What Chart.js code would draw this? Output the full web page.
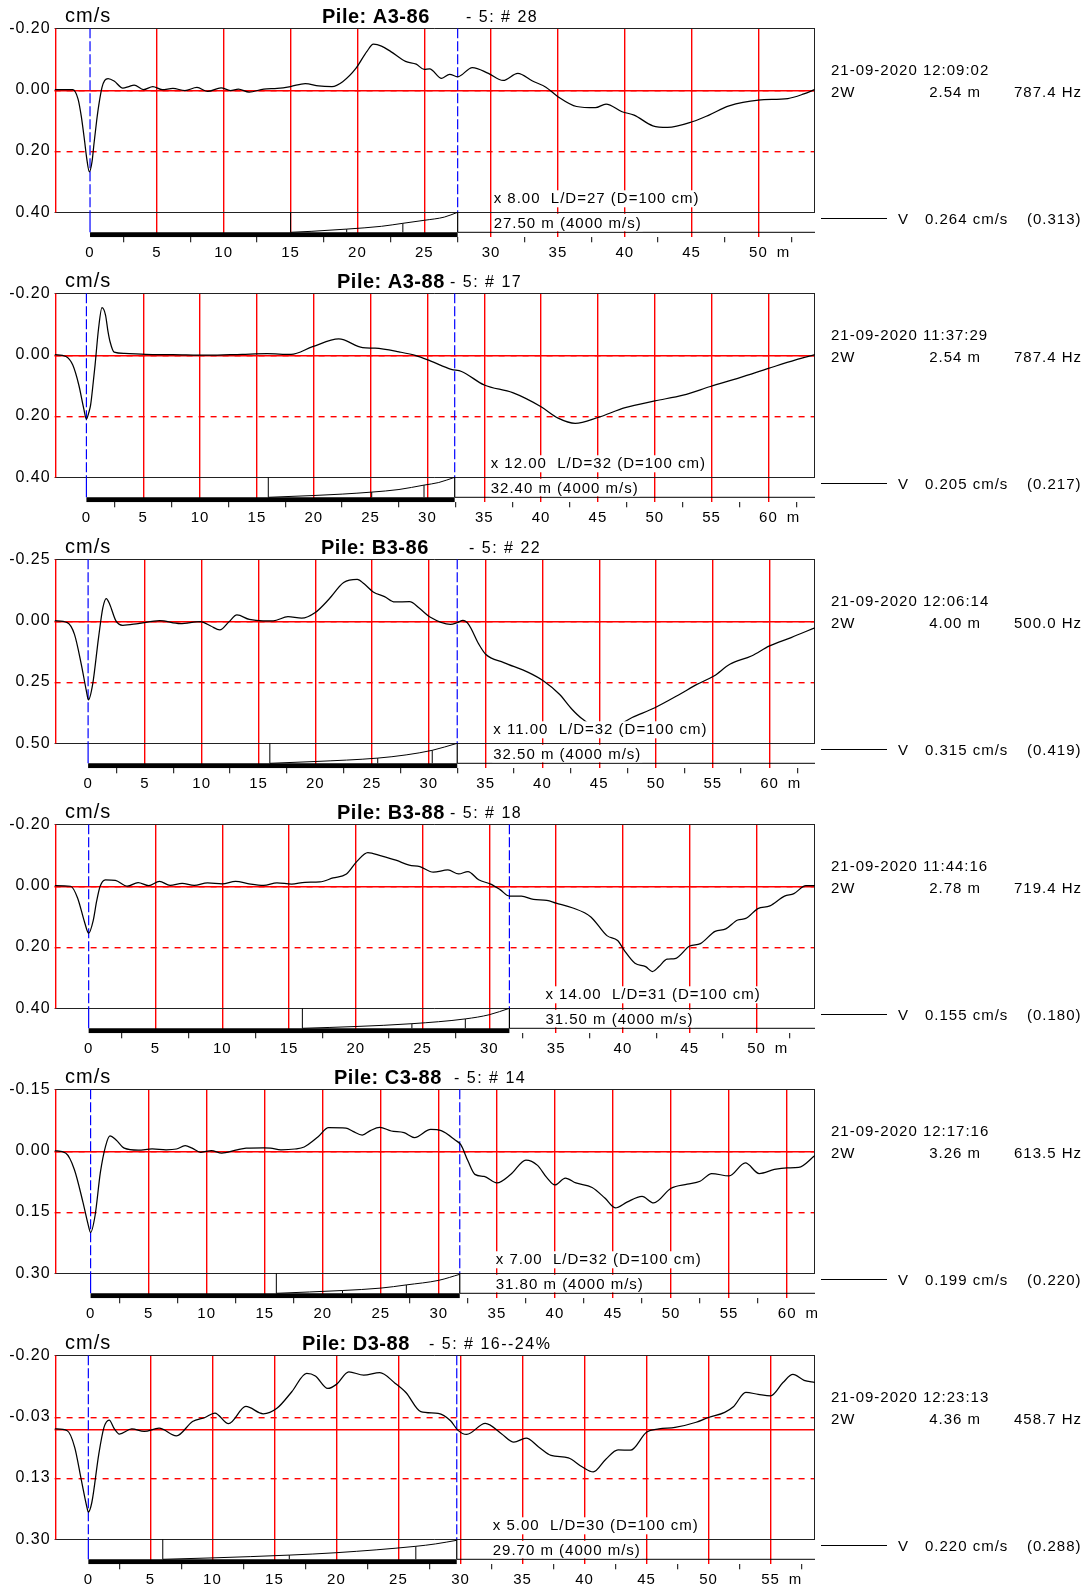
<!DOCTYPE html>
<html>
<head>
<meta charset="utf-8">
<title>Pile integrity records</title>
<script src="https://cdn.jsdelivr.net/npm/chart.js@4.4.1/dist/chart.umd.min.js"></script>
<style>
  html, body { margin: 0; padding: 0; background: #fff; overflow: hidden; }
  body { width: 1088px; height: 1586px; position: relative; }
  canvas { position: absolute; left: 0; }
</style>
</head>
<body>
<script>
// one entry per pile record, top to bottom
const piles = ['A3-86', 'A3-88', 'B3-86', 'B3-88', 'C3-88', 'D3-88'];
const blowInfo = ['- 5: # 28', '- 5: # 17', '- 5: # 22', '- 5: # 18', '- 5: # 14', '- 5: # 16--24%'];
const testTimes = ['21-09-2020 12:09:02', '21-09-2020 11:37:29', '21-09-2020 12:06:14',
                   '21-09-2020 11:44:16', '21-09-2020 12:17:16', '21-09-2020 12:23:13'];
const windowLens = ['2.54 m', '2.54 m', '4.00 m', '2.78 m', '3.26 m', '4.36 m'];
const filterFreqs = ['787.4 Hz', '787.4 Hz', '500.0 Hz', '719.4 Hz', '613.5 Hz', '458.7 Hz'];
const peakVel = ['0.264 cm/s', '0.205 cm/s', '0.315 cm/s', '0.155 cm/s', '0.199 cm/s', '0.220 cm/s'];
const peakRaw = ['(0.313)', '(0.217)', '(0.419)', '(0.180)', '(0.220)', '(0.288)'];
const gains = [8, 12, 11, 14, 7, 5];
const ldRatio = [27, 32, 32, 31, 32, 30];
const pileDiam = 100; // cm
const pileLen = [27.5, 32.4, 32.5, 31.5, 31.8, 29.7];
const waveSpeed = 4000;

// axes
const yTop = [-0.20, -0.20, -0.25, -0.20, -0.15, -0.20];
const yBottom = [0.40, 0.40, 0.50, 0.40, 0.30, 0.30];
const yTickLabels = [
  ['-0.20', '0.00', '0.20', '0.40'],
  ['-0.20', '0.00', '0.20', '0.40'],
  ['-0.25', '0.00', '0.25', '0.50'],
  ['-0.20', '0.00', '0.20', '0.40'],
  ['-0.15', '0.00', '0.15', '0.30'],
  ['-0.20', '-0.03', '0.13', '0.30']
];
const xFrom = [-2.65, -2.8, -2.95, -2.55, -3.1, -2.72];
const xTo = [54.23, 64.1, 64.0, 54.38, 62.4, 58.58];

// velocity traces [depth m, cm/s]
const traceA386 = [[-2.65,0],[-1.3,0],[-0.9,0.03],[-0.65,0.088],[-0.4,0.17],[-0.26,0.22],[-0.05,0.268],[0.15,0.235],[0.3,0.175],[0.5,0.1],[0.65,0.052],[0.9,-0.008],[1.1,-0.03],[1.35,-0.036],[1.8,-0.028],[2.45,-0.005],[2.9,-0.01],[3.3,-0.015],[4.0,0],[4.7,-0.01],[5.4,0],[6.2,-0.004],[7.1,0.003],[8.0,-0.007],[8.8,0.006],[9.8,-0.006],[10.5,0.003],[11.1,-0.002],[11.9,0.008],[13,-0.002],[14,-0.004],[15,-0.01],[16.1,-0.02],[17.1,-0.012],[18.1,-0.01],[18.9,-0.026],[19.9,-0.07],[20.7,-0.124],[21.2,-0.148],[21.8,-0.142],[22.5,-0.124],[23.6,-0.092],[24.4,-0.083],[25,-0.066],[25.4,-0.068],[26.3,-0.037],[26.9,-0.05],[27.5,-0.042],[28.6,-0.072],[29.8,-0.053],[30.9,-0.03],[32.0,-0.053],[33.1,-0.028],[34.1,-0.008],[35,0.023],[36.4,0.055],[37.8,0.059],[38.6,0.047],[39.8,0.072],[40.7,0.083],[42.1,0.118],[43.2,0.123],[45.1,0.104],[46.3,0.083],[47.8,0.053],[50,0.034],[52.2,0.029],[53.4,0.014],[54.2,0]];
const traceA388 = [[-2.8,0],[-1.8,0.006],[-1.2,0.034],[-0.67,0.099],[-0.24,0.175],[0,0.21],[0.2,0.19],[0.37,0.164],[0.6,0.09],[0.76,0.034],[1.07,-0.086],[1.37,-0.153],[1.68,-0.129],[1.9,-0.075],[2.08,-0.042],[2.44,-0.008],[3.36,-0.004],[5.2,-0.001],[7.6,0],[10.7,0.002],[13.7,-0.001],[15.9,-0.003],[18,-0.001],[19.9,-0.026],[22.2,-0.051],[24.3,-0.023],[25.4,-0.021],[27.5,-0.009],[29,0.003],[30.3,0.021],[32.1,0.048],[33,0.055],[35,0.099],[37.5,0.124],[40,0.17],[41.5,0.207],[43,0.224],[45,0.205],[47.4,0.173],[50,0.151],[52.5,0.132],[54.9,0.104],[57.5,0.075],[60,0.045],[62.4,0.017],[64.1,0]];
const traceB386 = [[-2.95,0],[-1.83,0.008],[-1.2,0.056],[-0.6,0.178],[-0.15,0.287],[0.03,0.323],[0.4,0.26],[0.92,0.069],[1.3,-0.053],[1.6,-0.09],[1.9,-0.067],[2.44,0],[3.05,0.019],[4.4,0.012],[6.3,0],[8.1,0.012],[9.9,0.004],[10.8,0.022],[11.6,0.038],[12.4,0.005],[13.1,-0.023],[14.2,-0.005],[15.4,0.001],[16.3,0.001],[17.6,-0.016],[18.8,-0.01],[20,-0.033],[21.2,-0.087],[22.5,-0.155],[23.7,-0.168],[24.3,-0.15],[25.1,-0.117],[26.1,-0.098],[27,-0.076],[28.3,-0.077],[29.2,-0.049],[30.1,-0.015],[31.9,0.015],[32.5,0.008],[33,-0.001],[33.5,0.015],[34.4,0.096],[35,0.137],[36.6,0.171],[38.8,0.212],[40.1,0.246],[41.5,0.3],[42.6,0.361],[43.5,0.40],[45.5,0.45],[47.9,0.395],[49.9,0.355],[52.1,0.30],[53.6,0.26],[55.1,0.226],[56.5,0.178],[58.4,0.144],[60,0.103],[61.9,0.069],[64,0.029]];
const traceB388 = [[-2.55,0],[-1.35,0.002],[-0.83,0.04],[-0.3,0.12],[0,0.155],[0.34,0.114],[0.6,0.05],[0.86,0.002],[1.25,-0.019],[2.0,-0.017],[2.9,0.002],[3.7,-0.01],[4.5,0],[5.3,-0.014],[6.1,-0.001],[7,-0.007],[7.9,-0.001],[8.9,-0.009],[10,-0.006],[11,-0.014],[12,-0.006],[13.1,-0.001],[14.1,-0.009],[15.2,-0.005],[16.2,-0.011],[17.3,-0.012],[18.3,-0.025],[19.3,-0.038],[20.1,-0.08],[20.9,-0.108],[21.9,-0.097],[23,-0.083],[24,-0.067],[24.8,-0.062],[25.8,-0.044],[26.9,-0.051],[27.7,-0.038],[28.4,-0.046],[29.2,-0.019],[30.1,-0.005],[30.8,0.013],[31.5,0.034],[32.4,0.034],[33.3,0.045],[34.3,0.048],[35,0.057],[36.2,0.072],[37.6,0.102],[38.8,0.163],[39.6,0.179],[40.1,0.211],[40.9,0.253],[41.7,0.264],[42.2,0.28],[42.7,0.264],[43.3,0.24],[43.9,0.238],[45,0.197],[45.8,0.189],[46.9,0.149],[47.7,0.141],[48.6,0.112],[49.2,0.107],[50.1,0.075],[51,0.066],[52.1,0.034],[52.8,0.026],[53.7,0],[54.38,0]];
const traceC388 = [[-3.1,0],[-2.15,0.006],[-1.4,0.046],[-0.66,0.126],[-0.2,0.182],[0,0.2],[0.39,0.158],[0.84,0.054],[1.28,-0.01],[1.67,-0.036],[2.2,-0.026],[2.9,-0.006],[4.1,-0.001],[5.3,-0.004],[6.5,-0.002],[7.4,-0.004],[8.15,-0.012],[8.75,-0.006],[9.5,0.004],[10.4,0],[11.3,0.006],[12.5,-0.001],[13.4,-0.006],[14.9,-0.007],[15.5,-0.006],[16.4,-0.002],[17.6,-0.004],[18.4,-0.009],[19.6,-0.034],[20.5,-0.056],[22,-0.055],[22.6,-0.047],[23.4,-0.038],[24.1,-0.049],[24.9,-0.057],[25.9,-0.048],[27,-0.044],[27.9,-0.032],[29.3,-0.052],[30.2,-0.049],[31.4,-0.026],[31.9,-0.014],[32.5,0.025],[33.1,0.058],[33.9,0.063],[35,0.079],[36.2,0.058],[37.5,0.023],[38.5,0.036],[39.3,0.066],[40,0.084],[40.9,0.067],[41.8,0.079],[43.2,0.09],[44.3,0.116],[45.2,0.14],[46.2,0.126],[47.5,0.112],[48.5,0.128],[50,0.092],[51.4,0.082],[52.5,0.075],[53.5,0.056],[55,0.062],[56.4,0.03],[57.6,0.056],[58.9,0.046],[60,0.042],[61,0.041],[62.4,0.012]];
const traceD388 = [[-2.72,0],[-1.7,0.005],[-1.1,0.05],[-0.56,0.14],[-0.14,0.209],[0,0.226],[0.28,0.2],[0.84,0.069],[1.26,-0.004],[1.68,-0.024],[2.1,0],[2.5,0.014],[3.5,0],[4.5,0.007],[5.7,-0.002],[7.1,0.019],[8.4,-0.02],[9.4,-0.031],[10.2,-0.043],[11.3,-0.014],[12.7,-0.061],[14.1,-0.041],[15.2,-0.056],[16.4,-0.101],[17.6,-0.151],[18.3,-0.144],[19.3,-0.11],[20,-0.121],[21,-0.155],[22.2,-0.146],[23.5,-0.153],[24.7,-0.125],[25.6,-0.099],[26.8,-0.047],[28.2,-0.042],[29.2,-0.022],[29.8,0.004],[30.5,0.015],[32,-0.015],[33.3,0.013],[34.3,0.036],[35.3,0.025],[36.3,0.049],[37.3,0.072],[38.7,0.079],[39.8,0.103],[40.7,0.117],[41.7,0.083],[42.7,0.057],[43.7,0.058],[45,0.009],[46,0],[47.3,-0.004],[49,-0.018],[50,-0.031],[51.3,-0.045],[52,-0.06],[53,-0.099],[54,-0.094],[55,-0.09],[56,-0.126],[56.8,-0.148],[57.7,-0.132],[58.58,-0.126]];
const traces = [traceA386, traceA388, traceB386, traceB388, traceC388, traceD388];

// amplification curve under each frame [depth m, share of band height]
const ampStart = [15, 16, 16, 16, 16, 6];
const ampCurves = [
  [[15,0],[16.6,0.05],[19.2,0.16],[21.8,0.3],[23.4,0.45],[25,0.6],[26.5,0.76],[27.5,1]],
  [[16,0],[20,0.09],[22.5,0.16],[25.1,0.26],[27.5,0.39],[29.7,0.61],[31,0.74],[32.4,1]],
  [[16,0],[20,0.09],[25.5,0.26],[28,0.42],[30.3,0.65],[32.5,1]],
  [[16,0],[20,0.09],[24.2,0.23],[28.2,0.47],[30,0.68],[31.5,1]],
  [[16,0],[21.7,0.14],[25,0.26],[27.2,0.42],[30,0.65],[31.8,0.95]],
  [[6,0],[10,0.07],[16.2,0.21],[20,0.33],[26.4,0.65],[28,0.77],[29.7,0.95]]
];
const ampMarks = [
  [[19.2,0.16],[23.4,0.45]],
  [[25.1,0.26],[29.7,0.61]],
  [[25.5,0.26],[30.3,0.65]],
  [[24.2,0.23],[28.2,0.47]],
  [[21.7,0.14],[27.2,0.42]],
  [[16.2,0.21],[26.4,0.65]]
];

// page layout
const PANEL_H = 265;
const panelTops = [0, 265, 531, 796, 1061, 1327];
const titleX = [322, 337, 321, 337, 334, 302];
const suffixX = [466, 450, 469, 450, 454, 429];
const FONT = "'Liberation Sans', Arial, sans-serif";
const RED = '#ff0000';
const BLUE = '#0000ff';
const FRAME_TOP = 28.3, FRAME_PX = 184;
const BAR_TOP = 20, BAR_BOT = 25; // px below frame bottom

function bandVal(p, px) {
  return yBottom[p] + px * (yBottom[p] - yTop[p]) / FRAME_PX;
}

function seg(x1, y1, x2, y2, color, width, dash) {
  return {
    data: [{x: x1, y: y1}, {x: x2, y: y2}],
    borderColor: color, borderWidth: width, borderDash: dash || [],
    pointRadius: 0, tension: 0, borderCapStyle: 'butt'
  };
}

function isMajor(v) { return Math.abs(v / 5 - Math.round(v / 5)) < 1e-6; }

function hline(ctx, x1, x2, y) {
  ctx.beginPath(); ctx.moveTo(x1, y); ctx.lineTo(x2, y); ctx.stroke();
}
function vline(ctx, x, y1, y2) {
  ctx.beginPath(); ctx.moveTo(x, y1); ctx.lineTo(x, y2); ctx.stroke();
}

function decor(p) {
  return {
    id: 'decor' + p,
    beforeDraw(chart) {
      chart.ctx.letterSpacing = '1px';
    },
    beforeDatasetsDraw(chart) {
      const ctx = chart.ctx, a = chart.chartArea, y = chart.scales.y;
      const rng = yBottom[p] - yTop[p];
      const top = Math.round(y.getPixelForValue(yTop[p])) + 0.5;
      const bot = Math.round(y.getPixelForValue(yBottom[p])) + 0.5;
      ctx.save();
      ctx.lineWidth = 1.4;
      ctx.strokeStyle = RED;
      ctx.setLineDash([6, 6]);
      [1, 2].forEach(k => {
        const py = Math.round(y.getPixelForValue(yTop[p] + k * rng / 3)) + 0.7;
        hline(ctx, a.left, a.right, py);
      });
      ctx.setLineDash([]);
      hline(ctx, a.left, a.right, Math.round(y.getPixelForValue(0)) + 0.7);
      // frame
      ctx.lineWidth = 1;
      ctx.strokeStyle = '#222';
      hline(ctx, a.left, a.right, top);
      hline(ctx, a.left, a.right, bot);
      vline(ctx, Math.round(a.right) - 0.5, top, bot);
      ctx.strokeStyle = RED;
      ctx.lineWidth = 1.4;
      vline(ctx, Math.round(a.left) + 0.7, top, bot);
      ctx.restore();
    },
    afterDatasetsDraw(chart) {
      const ctx = chart.ctx, x = chart.scales.x, y = chart.scales.y;
      const bot = y.getPixelForValue(yBottom[p]);
      const lx = x.getPixelForValue(pileLen[p]) + 36;
      ctx.save();
      ctx.font = '15px ' + FONT;
      ctx.textBaseline = 'middle';
      const t1 = 'x ' + gains[p].toFixed(2) + '  L/D=' + ldRatio[p] + ' (D=' + pileDiam + ' cm)';
      const t2 = pileLen[p].toFixed(2) + ' m (' + waveSpeed + ' m/s)';
      [[t1, bot - 22, 17, bot - 13.5], [t2, bot + 1.5, 17.5, bot + 12]].forEach(([t, by, bh, ty]) => {
        const w = ctx.measureText(t).width;
        ctx.fillStyle = '#fff';
        ctx.fillRect(lx - 1, by, w + 2, bh);
        ctx.fillStyle = '#000';
        ctx.fillText(t, lx, ty);
      });
      ctx.restore();
    },
    afterDraw(chart) {
      const ctx = chart.ctx, a = chart.chartArea, x = chart.scales.x;
      ctx.save();
      ctx.fillStyle = '#000';
      ctx.textBaseline = 'alphabetic';
      ctx.font = '20px ' + FONT;
      ctx.fillText('cm/s', 65, 22);
      ctx.letterSpacing = '0.5px';
      ctx.font = 'bold 20px ' + FONT;
      ctx.fillText('Pile: ' + piles[p], titleX[p], 22.5);
      ctx.letterSpacing = '1.5px';
      ctx.font = '16px ' + FONT;
      ctx.fillText(blowInfo[p], suffixX[p], 22);
      ctx.letterSpacing = '1px';
      ctx.font = '15px ' + FONT;
      ctx.textBaseline = 'middle';
      ctx.fillText(testTimes[p], 831, 71);
      ctx.fillText('2W', 831, 93);
      ctx.textAlign = 'right';
      ctx.fillText(windowLens[p], 981, 93);
      ctx.fillText(filterFreqs[p], 1082, 93);
      ctx.textAlign = 'left';
      const vy = Math.round(chart.scales.y.getPixelForValue(yBottom[p])) + 6.5;
      ctx.strokeStyle = '#000';
      ctx.lineWidth = 1;
      hline(ctx, 821, 887, vy);
      ctx.fillText('V', 898, vy + 1);
      ctx.fillText(peakVel[p], 925, vy + 1);
      ctx.fillText(peakRaw[p], 1027, vy + 1);
      // unit after the last depth label
      const last = Math.floor(xTo[p] / 5) * 5;
      ctx.textAlign = 'center';
      ctx.fillText('m', x.getPixelForValue(last) + 25, a.bottom + 16);
      ctx.restore();
    }
  };
}

function buildPanel(p) {
  const cv = document.createElement('canvas');
  cv.width = 1088;
  cv.height = PANEL_H;
  cv.style.top = panelTops[p] + 'px';
  document.body.appendChild(cv);

  const L = pileLen[p];
  const barTop = bandVal(p, BAR_TOP);
  const barMid = bandVal(p, (BAR_TOP + BAR_BOT) / 2);
  const rng = yBottom[p] - yTop[p];

  const datasets = [
    {
      data: traces[p].map(([d, v]) => ({x: d, y: v})),
      borderColor: '#000', borderWidth: 1.25, pointRadius: 0,
      cubicInterpolationMode: 'monotone'
    },
    {
      data: ampCurves[p].map(([d, f]) => ({x: d, y: bandVal(p, BAR_TOP * (1 - f))})),
      borderColor: '#000', borderWidth: 1, pointRadius: 0,
      cubicInterpolationMode: 'monotone'
    },
    seg(0, yTop[p], 0, yBottom[p], BLUE, 1.2, [10, 3]),
    seg(L, yTop[p], L, yBottom[p], BLUE, 1.2, [10, 3]),
    seg(0, yBottom[p], 0, barTop, BLUE, 1.2),
    seg(L, yBottom[p], L, barTop, '#000', 1.2),
    seg(ampStart[p], barTop, ampStart[p], yBottom[p], '#000', 1),
    seg(0, barMid, L, barMid, '#000', 5),
    seg(L, barTop, xTo[p], barTop, '#000', 1)
  ];
  ampMarks[p].forEach(([d, f]) => {
    datasets.push(seg(d, barTop, d, bandVal(p, BAR_TOP * (1 - f)), '#000', 1));
  });

  new Chart(cv.getContext('2d'), {
    type: 'line',
    data: { datasets: datasets },
    options: {
      responsive: false,
      animation: false,
      devicePixelRatio: 1,
      events: [],
      layout: { padding: { top: FRAME_TOP, right: 1088 - 815, left: 0, bottom: 0 } },
      plugins: { legend: { display: false }, tooltip: { enabled: false } },
      scales: {
        x: {
          type: 'linear',
          min: xFrom[p],
          max: xTo[p],
          afterBuildTicks: scale => {
            const t = [];
            for (let v = Math.ceil(xFrom[p] / 2.5) * 2.5; v <= xTo[p]; v += 2.5) t.push({value: v});
            scale.ticks = t;
          },
          afterFit: scale => { scale.height = PANEL_H - (FRAME_TOP + FRAME_PX + BAR_BOT); },
          border: { display: false },
          grid: {
            color: c => (c.tick && c.tick.value > 0 && isMajor(c.tick.value)) ? RED : 'rgba(0,0,0,0)',
            tickColor: c => (c.tick && c.tick.value > 0 && !isMajor(c.tick.value)) ? '#000' : 'rgba(0,0,0,0)',
            lineWidth: 1.4,
            tickWidth: 1,
            tickLength: 5
          },
          ticks: {
            autoSkip: false,
            maxRotation: 0,
            padding: 2,
            color: '#000',
            font: { family: FONT, size: 15 },
            callback: v => (v >= 0 && isMajor(v)) ? String(Math.round(v)) : ''
          }
        },
        y: {
          type: 'linear',
          reverse: true,
          min: yTop[p],
          max: bandVal(p, BAR_BOT),
          afterBuildTicks: scale => {
            scale.ticks = [0, 1, 2, 3].map(k => ({value: yTop[p] + k * rng / 3}));
          },
          afterFit: scale => { scale.width = 54.6; },
          border: { display: false },
          grid: { display: false, drawTicks: false },
          ticks: {
            padding: 4,
            color: '#000',
            font: { family: FONT, size: 16 },
            callback: (v, i) => yTickLabels[p][i]
          }
        }
      }
    },
    plugins: [decor(p)]
  });
}

for (let p = 0; p < piles.length; p++) buildPanel(p);
</script>
</body>
</html>
